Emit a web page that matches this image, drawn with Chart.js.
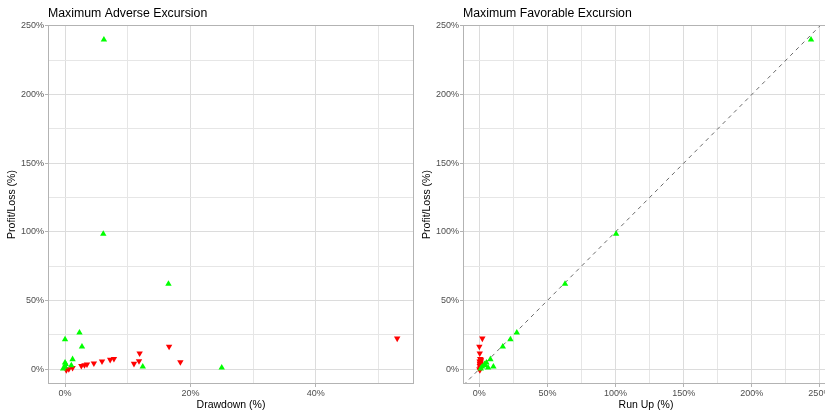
<!DOCTYPE html>
<html>
<head>
<meta charset="utf-8">
<script src="https://cdn.jsdelivr.net/npm/chart.js"></script>
<style>
  html, body { margin: 0; background: #fff; overflow: hidden; }
  .panel { position: absolute; top: 0; height: 412px; width: 414px; }
</style>
</head>
<body>
<div class="panel" style="left:0"><canvas id="maeChart"></canvas></div>
<div class="panel" style="left:415px"><canvas id="mfeChart"></canvas></div>
<script>
// winning trades (green, up triangles)
const winDrawdown = [6.2, 6.1, 16.5, 2.3, 0.0, 2.7, 1.2, 12.4, 25.0, 0.0, 0.0, -0.3, 1.0, 0.1];
const winRunUp    = [243.5, 100.4, 62.9, 27.5, 22.8, 17.2, 8.1, 10.3, 6.4, 5.2, 2.0, 1.0, 4.0, 3.8];
const winProfit   = [240.0, 98.4, 62.0, 26.5, 21.6, 16.3, 7.1, 1.7, 1.0, 4.6, 1.7, 0.2, 2.7, 3.5];

// losing trades (red, down triangles)
const lossDrawdown = [53.0, 16.6, 11.9, 18.4, 11.8, 11.0, 7.8, 7.2, 5.9, 4.6, 3.5, 3.1, 2.6, 1.2, 0.6, 0.2];
const lossRunUp    = [2.2, 0.0, 0.3, 0.8, 1.0, 0.4, 0.6, 1.2, 0.2, 0.9, 0.5, 1.4, 0.3, 0.7, 0.1, 0.4];
const lossProfit   = [22.3, 16.3, 11.4, 5.1, 5.8, 3.9, 7.5, 6.8, 5.6, 4.2, 3.4, 2.9, 2.4, 0.9, 0.0, -0.7];

// tick labels and minor grid positions
const profitTicks = [0, 50, 100, 150, 200, 250];
const profitMinor = [25, 75, 125, 175, 225];
const drawdownTicks = [0, 20, 40];
const drawdownMinor = [10, 30, 50];
const runUpTicks = [0, 50, 100, 150, 200, 250];
const runUpMinor = [25, 75, 125, 175, 225];

// y = x reference line for the MFE panel
const diagonal = [-20, 260];

const FONT = "'Liberation Sans', Arial, sans-serif";

function toPoints(xs, ys) {
  return xs.map((x, i) => ({ x: x, y: ys[i] }));
}

function axis(title, min, max, major, minor, pos) {
  const all = major.concat(minor).sort((a, b) => a - b);
  const isMajor = v => major.includes(v);
  const a = {
    type: 'linear',
    position: pos,
    min: min,
    max: max,
    afterBuildTicks: s => { s.ticks = all.map(v => ({ value: v })); },
    ticks: {
      callback: v => isMajor(v) ? v + '%' : '',
      color: '#4d4d4d',
      font: { family: FONT, size: 9 },
      padding: 1,
      autoSkip: false,
      maxRotation: 0
    },
    grid: {
      color: c => isMajor(c.tick.value) ? '#dcdcdc' : '#e6e6e6',
      tickColor: c => isMajor(c.tick.value) ? '#b3b3b3' : 'rgba(0,0,0,0)',
      tickLength: 3,
      lineWidth: 1
    },
    border: { display: false },
    title: {
      display: true,
      text: title,
      color: '#000',
      font: { family: FONT, size: 10.5 },
      padding: pos === 'bottom' ? { top: 0, bottom: 0.6 } : { top: 0, bottom: 0 }
    }
  };
  if (pos === 'left') {
    a.afterFit = s => { s.width = 42; s.paddingTop = 0; s.paddingBottom = 0; };
  } else {
    // labels may run past the edge, like the cropped reference
    a.afterFit = s => { s.height = 28; s.paddingLeft = 0; s.paddingRight = 0; };
  }
  return a;
}

// panel border + left aligned title
const panelPlugin = {
  id: 'panel',
  afterDatasetsDraw(chart, args, opts) {
    const a = chart.chartArea, ctx = chart.ctx;
    ctx.save();
    ctx.strokeStyle = '#b3b3b3';
    ctx.lineWidth = 1;
    ctx.strokeRect(a.left + 0.5, a.top + 0.5, a.right - a.left - 1, a.bottom - a.top - 1);
    ctx.fillStyle = '#000';
    ctx.font = '12.3px ' + FONT;
    ctx.textBaseline = 'alphabetic';
    ctx.textAlign = 'left';
    ctx.fillText(opts.text, a.left, 16.5);
    ctx.restore();
  }
};

function makeChart(id, title, xTitle, xMin, xMax, xMajor, xMinor, winX, lossX, withDiagonal) {
  const datasets = [
    {
      data: toPoints(winX, winProfit),
      pointStyle: 'triangle',
      pointRadius: 3.7,
      borderWidth: 0,
      backgroundColor: '#00ff00'
    },
    {
      data: toPoints(lossX, lossProfit),
      pointStyle: 'triangle',
      rotation: 180,
      pointRadius: 3.7,
      borderWidth: 0,
      backgroundColor: '#ff0000'
    }
  ];
  if (withDiagonal) {
    datasets.push({
      data: toPoints(diagonal, diagonal),
      showLine: true,
      pointRadius: 0,
      borderColor: '#6a6a6a',
      borderWidth: 1,
      borderDash: [4, 4]
    });
  }
  return new Chart(document.getElementById(id), {
    type: 'scatter',
    data: { datasets: datasets },
    options: {
      responsive: true,
      maintainAspectRatio: false,
      animation: false,
      events: [],
      layout: { autoPadding: false, padding: { left: 6, top: 25, right: 0, bottom: 0 } },
      plugins: {
        legend: { display: false },
        tooltip: { enabled: false },
        panel: { text: title }
      },
      scales: {
        x: axis(xTitle, xMin, xMax, xMajor, xMinor, 'bottom'),
        y: axis('Profit/Loss (%)', -10.9, 250.7, profitTicks, profitMinor, 'left')
      }
    },
    plugins: [panelPlugin]
  });
}

makeChart('maeChart', 'Maximum Adverse Excursion', 'Drawdown (%)', -2.72, 55.68,
  drawdownTicks, drawdownMinor, winDrawdown, lossDrawdown, false);
makeChart('mfeChart', 'Maximum Favorable Excursion', 'Run Up (%)', -12, 256.7,
  runUpTicks, runUpMinor, winRunUp, lossRunUp, true);
</script>
</body>
</html>
